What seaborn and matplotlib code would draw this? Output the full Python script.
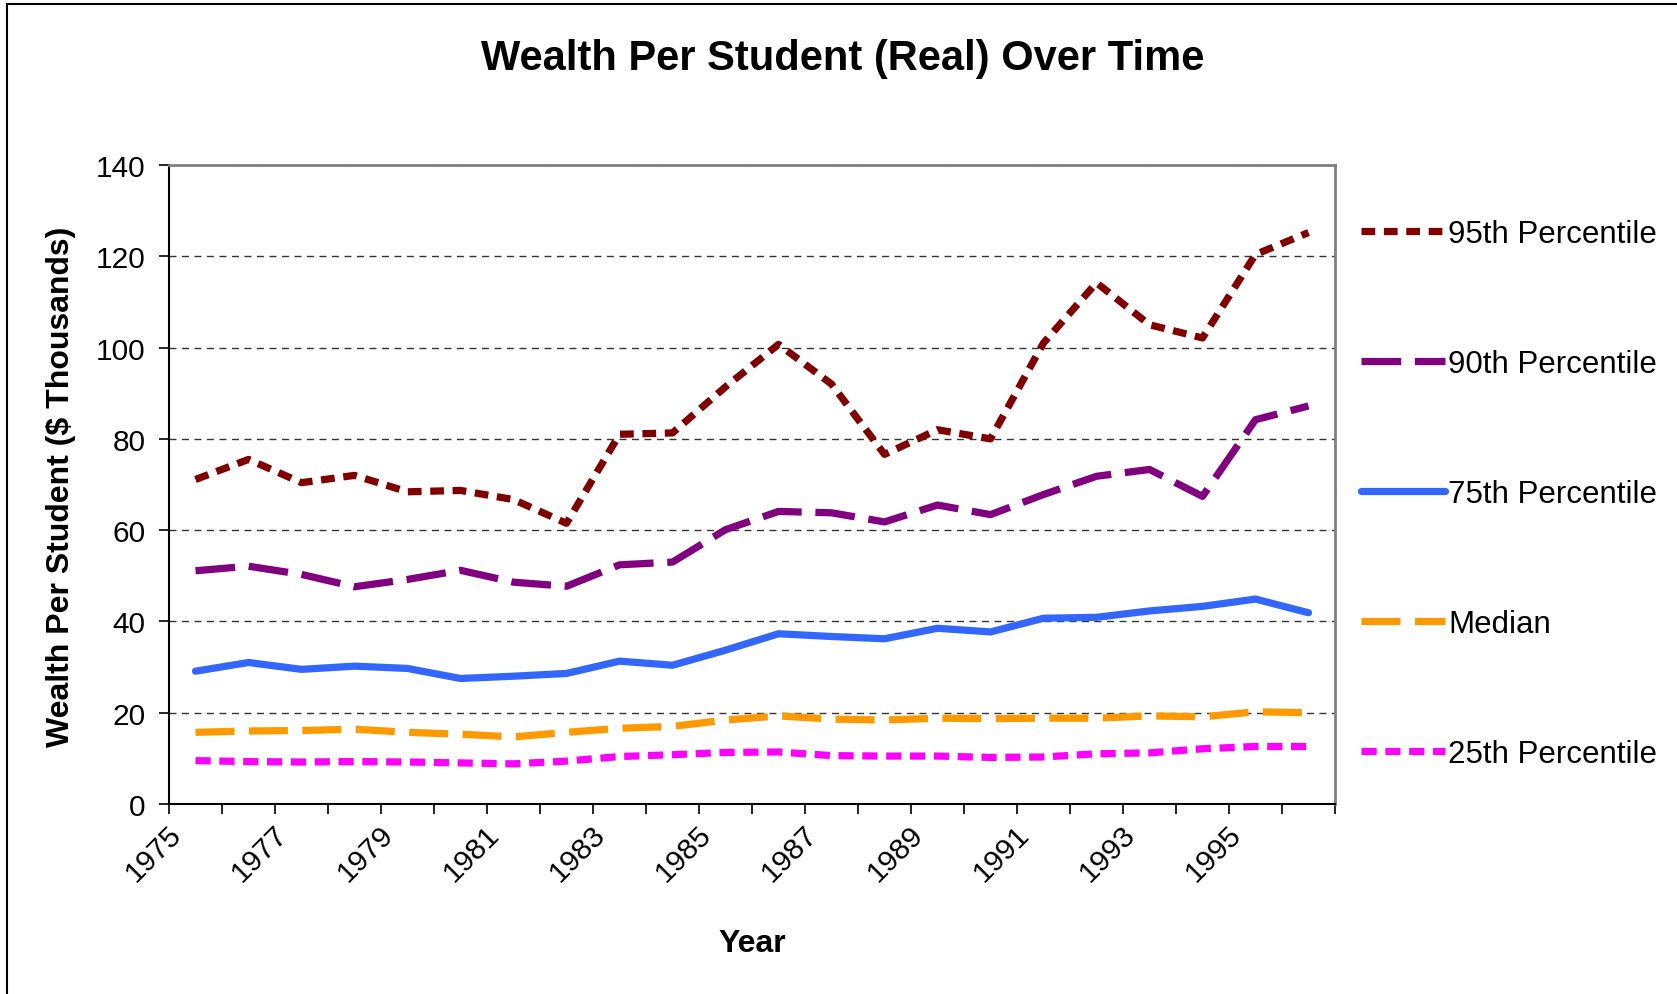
import numpy as np
import pandas as pd
import matplotlib
matplotlib.use("Agg")
import matplotlib.pyplot as plt
import matplotlib.transforms as mtransforms
from matplotlib.patches import Rectangle
import seaborn as sns

# values, one point per year (plotted mid-year)
years = list(range(1975, 1997))
p95 = [71.1, 75.5, 70.4, 72.0, 68.4, 68.7, 66.7, 61.5, 81.0, 81.3, 91.4,
       100.7, 92.0, 76.6, 82.0, 80.0, 101.0, 114.2, 105.0, 102.1, 120.4, 125.2]
p90 = [51.1, 52.1, 50.3, 47.6, 49.2, 51.2, 48.6, 47.7, 52.4, 53.0, 60.1,
       64.1, 63.8, 61.8, 65.5, 63.4, 67.8, 71.8, 73.3, 67.4, 84.2, 87.2]
p75 = [29.1, 31.0, 29.5, 30.2, 29.7, 27.5, 28.0, 28.6, 31.3, 30.4, 33.7,
       37.3, 36.7, 36.2, 38.5, 37.7, 40.7, 40.9, 42.3, 43.3, 44.9, 41.9]
median = [15.7, 16.0, 16.1, 16.4, 15.7, 15.3, 14.7, 15.7, 16.6, 17.0, 18.4,
          19.3, 18.6, 18.4, 18.8, 18.7, 18.8, 18.8, 19.3, 19.1, 20.2, 20.0]
p25 = [9.5, 9.3, 9.2, 9.3, 9.2, 9.0, 8.8, 9.4, 10.4, 10.8, 11.3,
       11.4, 10.6, 10.5, 10.5, 10.2, 10.3, 11.0, 11.2, 12.1, 12.6, 12.6]

series_names = ["95th Percentile", "90th Percentile", "75th Percentile", "Median", "25th Percentile"]
series_vals = [p95, p90, p75, median, p25]
colors = ["#800000", "#800080", "#3366FF", "#FF9900", "#FF00FF"]
dash_styles = [(1.9, 1.2), (5.5, 1.9), "", (5.4, 2.0), (2.1, 1.2)]

df = pd.DataFrame({"year": years})
df["x"] = df["year"] + 0.5
for name, vals in zip(series_names, series_vals):
    df[name] = vals

sns.set_style("white")
plt.rcParams["font.family"] = ["Liberation Sans", "DejaVu Sans"]
plt.rcParams["text.color"] = "black"
plt.rcParams["axes.labelcolor"] = "black"
plt.rcParams["xtick.color"] = "black"
plt.rcParams["ytick.color"] = "black"

W, H = 1677, 995
fig = plt.figure(figsize=(W / 100, H / 100), dpi=100)
ax = fig.add_axes([169 / W, 190 / H, (1335 - 169) / W, (805 - 166) / H])

for name, col, dsh in zip(series_names, colors, dash_styles):
    sns.lineplot(data=df, x="x", y=name, ax=ax, color=col, linewidth=5.2,
                 label=name)
    line = ax.get_lines()[-1]
    if dsh:
        line.set_dashes(dsh)
        line.set_dash_capstyle("butt")

ax.set_xlim(1975, 1997)
ax.set_ylim(0, 140)
ax.set_yticks(range(0, 141, 20))
ax.set_xticks(range(1975, 1998))
ax.set_xticklabels([str(y) if (y - 1975) % 2 == 0 and y < 1997 else "" for y in range(1975, 1998)],
                   rotation=45, ha="right", va="top")
ax.set_xlabel("")
ax.set_ylabel("")

# dashed horizontal gridlines
ax.yaxis.grid(True, color="#333333", linestyle=(0, (5, 4)), linewidth=1)
ax.xaxis.grid(False)

ax.tick_params(axis="both", direction="out", length=7, width=1.2, labelsize=21.5,
               color="black", labelcolor="black", bottom=True, left=True)
ax.tick_params(axis="y", pad=10)
ax.tick_params(axis="x", pad=4)
offset = mtransforms.ScaledTranslation(18 / 100, 0, fig.dpi_scale_trans)
for lab in ax.get_xticklabels():
    lab.set_transform(lab.get_transform() + offset)

for s in ["left", "bottom"]:
    ax.spines[s].set_color("black")
    ax.spines[s].set_linewidth(1.5)
for s in ["top", "right"]:
    ax.spines[s].set_color("#808080")
    ax.spines[s].set_linewidth(2)

fig.text(843 / W, 1 - 59 / H, "Wealth Per Student (Real) Over Time",
         fontsize=30, fontweight="bold", ha="center", va="center", color="black")
fig.text(61 / W, 1 - 487 / H, "Wealth Per Student ($ Thousands)",
         fontsize=23, fontweight="bold", rotation=90, ha="center", va="center", color="black")
fig.text(752 / W, 1 - 944 / H, "Year", fontsize=23, fontweight="bold",
         ha="center", va="center", color="black")

handles, labels = ax.get_legend_handles_labels()
leg = ax.legend(handles, labels, loc="center left", bbox_to_anchor=(1361 / W, 1 - 495 / H),
                bbox_transform=fig.transFigure, frameon=False, fontsize=22.5,
                handlelength=2.7, handletextpad=0.1, labelspacing=3.2,
                borderpad=0, borderaxespad=0)
for t in leg.get_texts():
    t.set_color("black")

# thin outer chart border
fig.patches.append(Rectangle((7 / W, -0.1), 1.2, 1 - 5 / H + 0.1,
                             transform=fig.transFigure, fill=False,
                             edgecolor="black", linewidth=1.5))

fig.savefig("out.png", dpi=100, facecolor="white")
